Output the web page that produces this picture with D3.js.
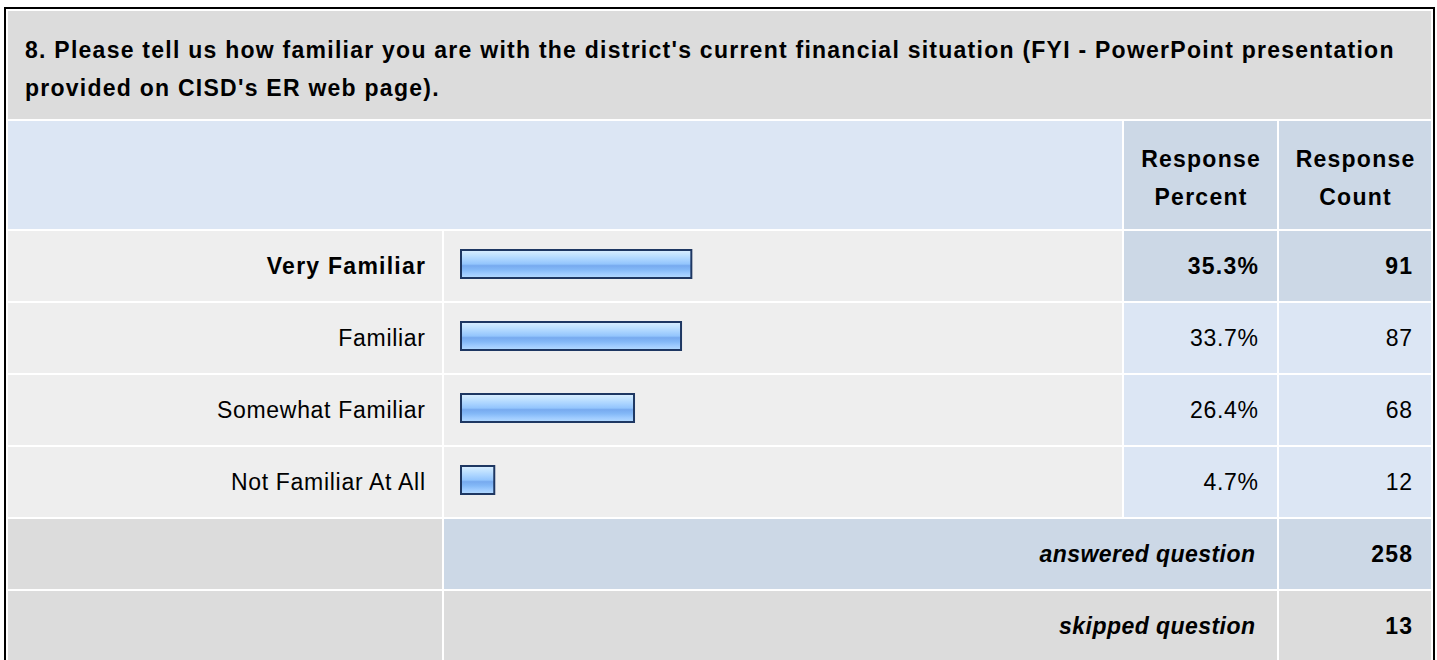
<!DOCTYPE html>
<html>
<head>
<meta charset="utf-8">
<script src="https://cdn.jsdelivr.net/npm/d3@7"></script>
<style>
  body { margin: 0; background: #fff; }
  svg text { font-family: Arial, "Liberation Sans", Helvetica, sans-serif; fill: #000; font-size: 23px; letter-spacing: 0.7px; }
  svg text.b { font-weight: bold; letter-spacing: 1.25px; }
  svg text.b.i { font-style: italic; letter-spacing: 0.45px; }
</style>
</head>
<body>
<svg id="chart" width="1437" height="660"></svg>
<script>
// survey question data
var titleLines = ["8. Please tell us how familiar you are with the district's current financial situation (FYI - PowerPoint presentation",
                  "provided on CISD's ER web page)."];
var headerPercent = ["Response", "Percent"];
var headerCount = ["Response", "Count"];
var categories = ["Very Familiar", "Familiar", "Somewhat Familiar", "Not Familiar At All"];
var percents = [35.3, 33.7, 26.4, 4.7];
var counts = [91, 87, 68, 12];
var summaryLabels = ["answered question", "skipped question"];
var summaryCounts = [258, 13];

var svg = d3.select("#chart");

// column edges
var colLabel = [8, 442], colBar = [444, 1122], colPct = [1124, 1277], colCnt = [1279, 1431];
var rowTop = 231, rowH = 70, rowStep = 72;

var grey = "#dcdcdc", light = "#eeeeee", blue = "#dce6f4", blueDark = "#ccd8e6";

// gradient for bars
var grad = svg.append("defs").append("linearGradient")
    .attr("id", "barGrad").attr("x1", 0).attr("y1", 0).attr("x2", 0).attr("y2", 1);
[[0, "#dbefff"], [0.18, "#c1e2ff"], [0.36, "#a7d2ff"], [0.5, "#93c5fd"],
 [0.56, "#77aaef"], [0.7, "#83b8f7"], [0.85, "#9ecbff"], [1, "#b5dbff"]].forEach(function (s) {
  grad.append("stop").attr("offset", s[0]).attr("stop-color", s[1]);
});

// outer black frame
svg.append("rect").attr("x", 5).attr("y", 8).attr("width", 1429).attr("height", 670)
    .attr("fill", "none").attr("stroke", "#000").attr("stroke-width", 2);

function cell(x0, x1, y, h, fill) {
  svg.append("rect").attr("x", x0).attr("y", y).attr("width", x1 - x0).attr("height", h).attr("fill", fill);
}

// right aligned text; letter-spacing adds a trailing gap, so nudge by it
function rtext(xr, y, txt, bold, italic) {
  var ls = italic ? 0.45 : (bold ? 1.25 : 0.7);
  return svg.append("text").attr("class", (bold ? "b" : "") + (italic ? " i" : ""))
      .attr("x", xr + ls).attr("y", y).attr("dy", "0.36em")
      .attr("text-anchor", "end")
      .text(txt);
}

// title
cell(8, 1431, 11, 108, grey);
svg.selectAll("text.title").data(titleLines).enter().append("text")
    .attr("class", "title b")
    .attr("x", 25).attr("y", function (d, i) { return 57.5 + i * 38; })
    .text(function (d) { return d; });

// header
cell(colLabel[0], colBar[1], 121, 108, blue);
cell(colPct[0], colPct[1], 121, 108, blueDark);
cell(colCnt[0], colCnt[1], 121, 108, blueDark);
[[colPct, headerPercent], [colCnt, headerCount]].forEach(function (h) {
  svg.selectAll(null).data(h[1]).enter().append("text")
      .attr("class", "b")
      .attr("x", (h[0][0] + h[0][1]) / 2 + 0.6).attr("y", function (d, i) { return 167 + i * 37.5; })
      .attr("text-anchor", "middle")
      .text(function (d) { return d; });
});

var maxP = d3.max(percents);
var x = d3.scaleLinear().domain([0, 100]).range([5, 649]);
var yRow = function (i) { return rowTop + i * rowStep; };

// response rows
categories.forEach(function (c, i) {
  var y = yRow(i), top = percents[i] === maxP, mid = y + rowH / 2;
  cell(colLabel[0], colLabel[1], y, rowH, light);
  cell(colBar[0], colBar[1], y, rowH, light);
  cell(colPct[0], colPct[1], y, rowH, top ? blueDark : blue);
  cell(colCnt[0], colCnt[1], y, rowH, top ? blueDark : blue);

  rtext(colLabel[1] - 17, mid, c, top);

  svg.append("rect")
      .attr("x", colBar[0] + 16 + 1).attr("y", y + 18 + 1)
      .attr("width", x(percents[i]) - 2).attr("height", 28)
      .attr("fill", "url(#barGrad)").attr("stroke", "#1e3762").attr("stroke-width", 2);

  rtext(colPct[1] - 19, mid, d3.format(".1f")(percents[i]) + "%", top);
  rtext(colCnt[1] - 19, mid, counts[i], top);
});

// answered / skipped
summaryLabels.forEach(function (s, j) {
  var y = yRow(categories.length + j), h = rowH + (j === 1 ? 10 : 0);
  var fill = j === 0 ? blueDark : grey;
  cell(colLabel[0], colLabel[1], y, h, grey);
  cell(colBar[0], colPct[1], y, h, fill);
  cell(colCnt[0], colCnt[1], y, h, fill);
  rtext(colPct[1] - 22, y + rowH / 2, s, true, true);
  rtext(colCnt[1] - 19, y + rowH / 2, summaryCounts[j], true);
});
</script>
</body>
</html>
